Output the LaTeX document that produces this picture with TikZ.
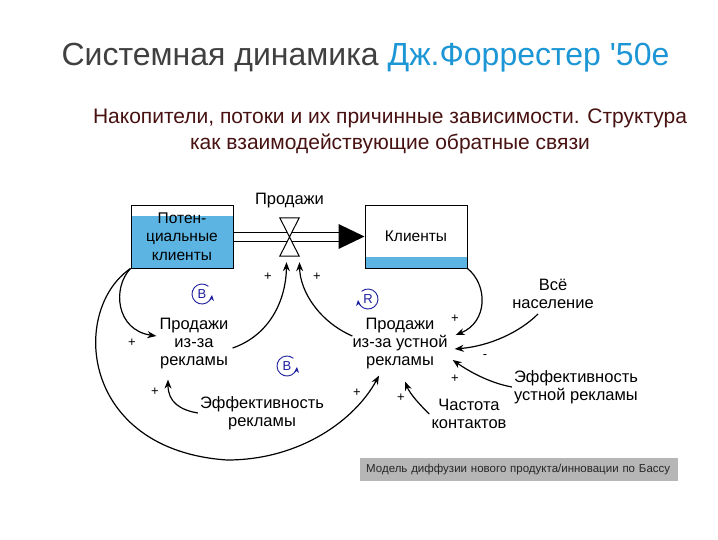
\documentclass[tikz,border=0pt]{standalone}
\usepackage{fontspec}
\setmainfont{Liberation Sans}
\usetikzlibrary{positioning}
\usetikzlibrary{arrows.meta}
\definecolor{stockblue}{RGB}{92,180,226}
\definecolor{titlegray}{RGB}{64,64,64}
\definecolor{titleblue}{RGB}{28,150,212}
\definecolor{subred}{RGB}{72,18,18}
\definecolor{loopnavy}{RGB}{30,30,160}
\definecolor{barfill}{RGB}{182,182,182}
\tikzset{%
  link/.style = {-{Stealth[length=9pt,width=7pt]},line width=1.2pt},
  pipe/.style = {double,double distance=8pt,line width=1pt},
  stock/.style = {rectangle,draw,line width=1pt,minimum width=102pt,
        minimum height=63pt,align=center,font=\fontsize{15.5}{18.5}\selectfont},
  v/.style = {align=center,inner sep=2pt,font=\fontsize{16.5}{18}\selectfont},
  sign/.style = {inner sep=0pt,font=\fontsize{13}{13}\selectfont},
  loopmark/.style = {inner sep=0pt,text=loopnavy,font=\fontsize{13}{13}\selectfont},
  loopline/.style = {-{Stealth[length=6pt,width=5pt]},loopnavy,line width=0.9pt}
}
\begin{document}
\begin{tikzpicture}[x=1pt,y=-1pt]
\useasboundingbox[fill=white] (0,0) rectangle (718,539);
% heading
\node[font=\fontsize{32}{36}\selectfont] (title) at (365.5,58)
    {\textcolor{titlegray}{Системная динамика} \textcolor{titleblue}{Дж.Форрестер \textquotesingle50е}};
\node[align=center,text=subred,font=\fontsize{21}{26}\selectfont] (subtitle) at (390,131)
    {Накопители, потоки и их причинные зависимости. Структура\\как взаимодействующие обратные связи};
% stocks and flow
\node[stock,path picture={\fill[stockblue] ([yshift=-11pt]path picture bounding box.north west)
        rectangle (path picture bounding box.south east);}] (pot) at (182,236.5)
    {Потен-\\циальные\\клиенты};
\node[stock,path picture={\fill[stockblue] ([yshift=11pt]path picture bounding box.south west)
        rectangle (path picture bounding box.south east);}] (cli) at (416,236.5) {Клиенты};
\node[inner sep=0pt,minimum width=19pt,minimum height=38pt] (valve) at (289.5,237) {};
\draw[pipe] (pot.east) -- ([xshift=-25pt]cli.west);
\fill (cli.west) -- ++(-26,-12.5) -- ++(0,25) -- cycle;
\draw[line width=1pt,fill=white] (valve.center) -- (valve.north west) -- (valve.north east) -- cycle;
\draw[line width=1pt,fill=white] (valve.center) -- (valve.south west) -- (valve.south east) -- cycle;
\node[v,above=8pt of valve] (flowlabel) {Продажи};
% variables
\node[v] (adsales) at (194,344) {Продажи\\из-за\\рекламы};
\node[v] (wom) at (400,344) {Продажи\\из-за устной\\рекламы};
\node[v] (adeff) at (262,413) {Эффективность\\рекламы};
\node[v] (freq) at (469,414) {Частота\\контактов};
\node[v] (pop) at (553,294) {Всё\\население};
\node[v] (womeff) at (576,387) {Эффективность\\устной рекламы};
% causal links
\draw[link] (pot.south west) .. controls (112,288) and (116,330) .. ([shift={(-1,-8)}]adsales.west);
\draw[link] (pot.south west) .. controls (70,310) and (80,450) .. (227,460)
    .. controls (300,460) and (355,420) .. ([shift={(-21,4)}]wom.south);
\draw[link] ([shift={(2,4)}]adsales.east) .. controls (270,335) and (286,300) .. ([shift={(-3,6)}]valve.south);
\draw[link] ([shift={(2,-8)}]wom.west) .. controls (320,322) and (300,292) .. ([shift={(10,6)}]valve.south);
\draw[link] (cli.south east) .. controls (488,285) and (488,322) .. ([shift={(6,-9)}]wom.east);
\draw[link] ([shift={(-15,3)}]pop.south) .. controls (520,332) and (490,346) .. ([shift={(5,5)}]wom.east);
\draw[link] (womeff.west) .. controls (490,383) and (470,372) .. ([shift={(3,16)}]wom.east);
\draw[link] (freq.west) .. controls (420,405) and (410,394) .. ([shift={(5,10)}]wom.south);
\draw[link] (adeff.west) .. controls (180,410) and (168,402) .. ([shift={(-26,8)}]adsales.south);
% polarities
\node[sign] (s1) at (132,343) {+};
\node[sign] (s2) at (155,392) {+};
\node[sign] (s3) at (268,277) {+};
\node[sign] (s4) at (317,277) {+};
\node[sign] (s5) at (455,319) {+};
\node[sign] (s6) at (485,357) {-};
\node[sign] (s7) at (455,379) {+};
\node[sign] (s8) at (401,398) {+};
\node[sign] (s9) at (357,393) {+};
% loops
\node[loopmark] (loopb1) at (202,294) {B};
\node[loopmark] (loopb2) at (287,366) {B};
\node[loopmark] (loopr) at (368,299) {R};
\draw[loopline] (loopb1.center) ++(50:10pt) arc[start angle=50,end angle=355,radius=10pt];
\draw[loopline] (loopb2.center) ++(50:10pt) arc[start angle=50,end angle=355,radius=10pt];
\draw[loopline] (loopr.center) ++(130:10pt) arc[start angle=130,end angle=-175,radius=10pt];
% caption bar
\node[fill=barfill,anchor=north west,minimum width=318pt,minimum height=23pt,
    inner xsep=6pt,align=left,text=black!85,font=\fontsize{11.5}{13}\selectfont,
    text width=306pt] (caption) at (360,458)
    {Модель диффузии нового продукта/инновации по Бассу};
\end{tikzpicture}
\end{document}
